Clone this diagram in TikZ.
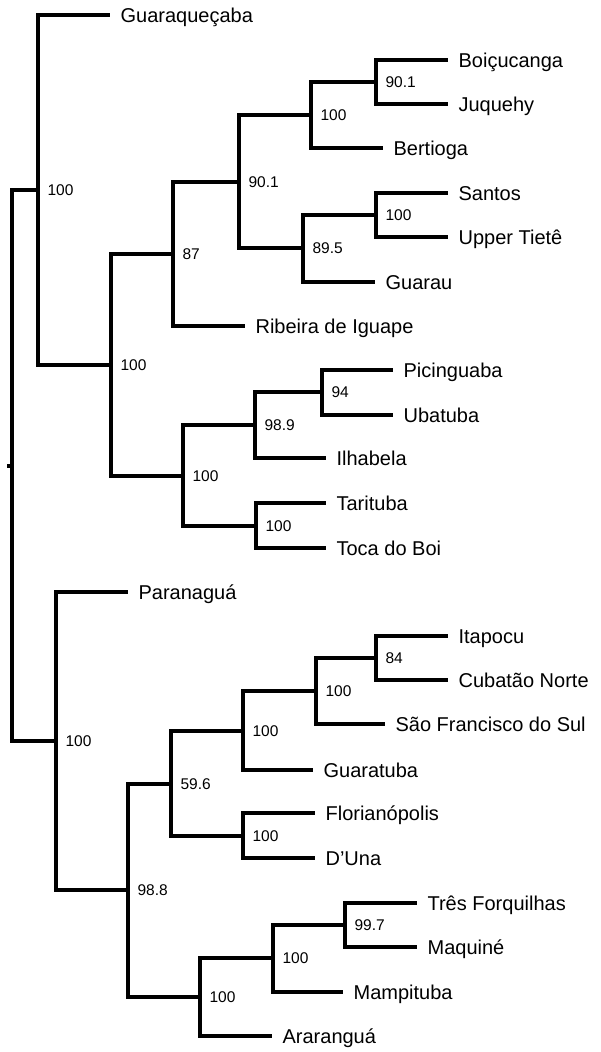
\documentclass[tikz,border=0pt]{standalone}
\usepackage{fontspec}
\setmainfont{Liberation Sans}
\begin{document}
\begin{tikzpicture}[x=1pt, y=-1pt, line width=3.2pt,
    leaf/.style={anchor=west, inner xsep=9pt, inner ysep=0pt, text height=14pt, text depth=0pt, font=\fontsize{20}{24}\selectfont},
    boot/.style={anchor=west, inner xsep=8pt, inner ysep=0pt, text height=11pt, text depth=0pt, font=\fontsize{15.5}{18}\selectfont}]

            \useasboundingbox (0,0) rectangle (600,1052);

            % Inner nodes
            \coordinate (stub) at (7,466);
            \coordinate (root) at (12,466);
            \coordinate (l) at (38,190);
            \coordinate (k) at (111,365);
            \coordinate (f) at (173,254);
            \coordinate (e) at (239,182);
            \coordinate (b) at (311,115);
            \coordinate (a) at (376,82);
            \coordinate (d) at (303,248);
            \coordinate (c) at (376,215);
            \coordinate (j) at (183,476);
            \coordinate (h) at (255,425);
            \coordinate (g) at (322,392);
            \coordinate (i) at (256,526);
            \coordinate (v) at (56,741);
            \coordinate (u) at (128,890);
            \coordinate (q) at (171,784);
            \coordinate (o) at (243,731);
            \coordinate (n) at (316,691);
            \coordinate (m) at (376,658);
            \coordinate (p) at (243,836);
            \coordinate (t) at (200,997);
            \coordinate (s) at (273,958);
            \coordinate (r) at (345,925);

            % Leaves
            \node[leaf] (guaraquecaba) at (110,15) {Guaraqueçaba};
            \node[leaf] (boicucanga) at (448,60) {Boiçucanga};
            \node[leaf] (juquehy) at (448,104) {Juquehy};
            \node[leaf] (bertioga) at (383,148) {Bertioga};
            \node[leaf] (santos) at (448,193) {Santos};
            \node[leaf] (tiete) at (448,237) {Upper Tietê};
            \node[leaf] (guarau) at (375,282) {Guarau};
            \node[leaf] (ribeira) at (245,326) {Ribeira de Iguape};
            \node[leaf] (picinguaba) at (393,370) {Picinguaba};
            \node[leaf] (ubatuba) at (393,415) {Ubatuba};
            \node[leaf] (ilhabela) at (326,458) {Ilhabela};
            \node[leaf] (tarituba) at (326,503) {Tarituba};
            \node[leaf] (toca) at (326,548) {Toca do Boi};
            \node[leaf] (paranagua) at (128,592) {Paranaguá};
            \node[leaf] (itapocu) at (448,636) {Itapocu};
            \node[leaf] (cubatao) at (448,680) {Cubatão Norte};
            \node[leaf] (saofrancisco) at (385,724) {São Francisco do Sul};
            \node[leaf] (guaratuba) at (313,770) {Guaratuba};
            \node[leaf] (florianopolis) at (315,813) {Florianópolis};
            \node[leaf] (duna) at (315,858) {D’Una};
            \node[leaf] (tres) at (417,903) {Três Forquilhas};
            \node[leaf] (maquine) at (417,947) {Maquiné};
            \node[leaf] (mampituba) at (343,992) {Mampituba};
            \node[leaf] (ararangua) at (272,1036) {Araranguá};

            % Support values
            \node[boot] (l-bs) at (l) {100};
            \node[boot] (k-bs) at (k) {100};
            \node[boot] (f-bs) at (f) {87};
            \node[boot] (e-bs) at (e) {90.1};
            \node[boot] (b-bs) at (b) {100};
            \node[boot] (a-bs) at (a) {90.1};
            \node[boot] (d-bs) at (d) {89.5};
            \node[boot] (c-bs) at (c) {100};
            \node[boot] (j-bs) at (j) {100};
            \node[boot] (h-bs) at (h) {98.9};
            \node[boot] (g-bs) at (g) {94};
            \node[boot] (i-bs) at (i) {100};
            \node[boot] (v-bs) at (v) {100};
            \node[boot] (u-bs) at (u) {98.8};
            \node[boot] (q-bs) at (q) {59.6};
            \node[boot] (o-bs) at (o) {100};
            \node[boot] (n-bs) at (n) {100};
            \node[boot] (m-bs) at (m) {84};
            \node[boot] (p-bs) at (p) {100};
            \node[boot] (t-bs) at (t) {100};
            \node[boot] (s-bs) at (s) {100};
            \node[boot] (r-bs) at (r) {99.7};

            % Branches
            \draw (stub) -- (root);
            \draw (root) |- (l);
            \draw (root) |- (v);
            \draw (l) |- (guaraquecaba.west);
            \draw (l) |- (k);
            \draw (k) |- (f);
            \draw (k) |- (j);
            \draw (f) |- (e);
            \draw (f) |- (ribeira.west);
            \draw (e) |- (b);
            \draw (e) |- (d);
            \draw (b) |- (a);
            \draw (b) |- (bertioga.west);
            \draw (a) |- (boicucanga.west);
            \draw (a) |- (juquehy.west);
            \draw (d) |- (c);
            \draw (d) |- (guarau.west);
            \draw (c) |- (santos.west);
            \draw (c) |- (tiete.west);
            \draw (j) |- (h);
            \draw (j) |- (i);
            \draw (h) |- (g);
            \draw (h) |- (ilhabela.west);
            \draw (g) |- (picinguaba.west);
            \draw (g) |- (ubatuba.west);
            \draw (i) |- (tarituba.west);
            \draw (i) |- (toca.west);
            \draw (v) |- (paranagua.west);
            \draw (v) |- (u);
            \draw (u) |- (q);
            \draw (u) |- (t);
            \draw (q) |- (o);
            \draw (q) |- (p);
            \draw (o) |- (n);
            \draw (o) |- (guaratuba.west);
            \draw (n) |- (m);
            \draw (n) |- (saofrancisco.west);
            \draw (m) |- (itapocu.west);
            \draw (m) |- (cubatao.west);
            \draw (p) |- (florianopolis.west);
            \draw (p) |- (duna.west);
            \draw (t) |- (s);
            \draw (t) |- (ararangua.west);
            \draw (s) |- (r);
            \draw (s) |- (mampituba.west);
            \draw (r) |- (tres.west);
            \draw (r) |- (maquine.west);
          \end{tikzpicture}
\end{document}
